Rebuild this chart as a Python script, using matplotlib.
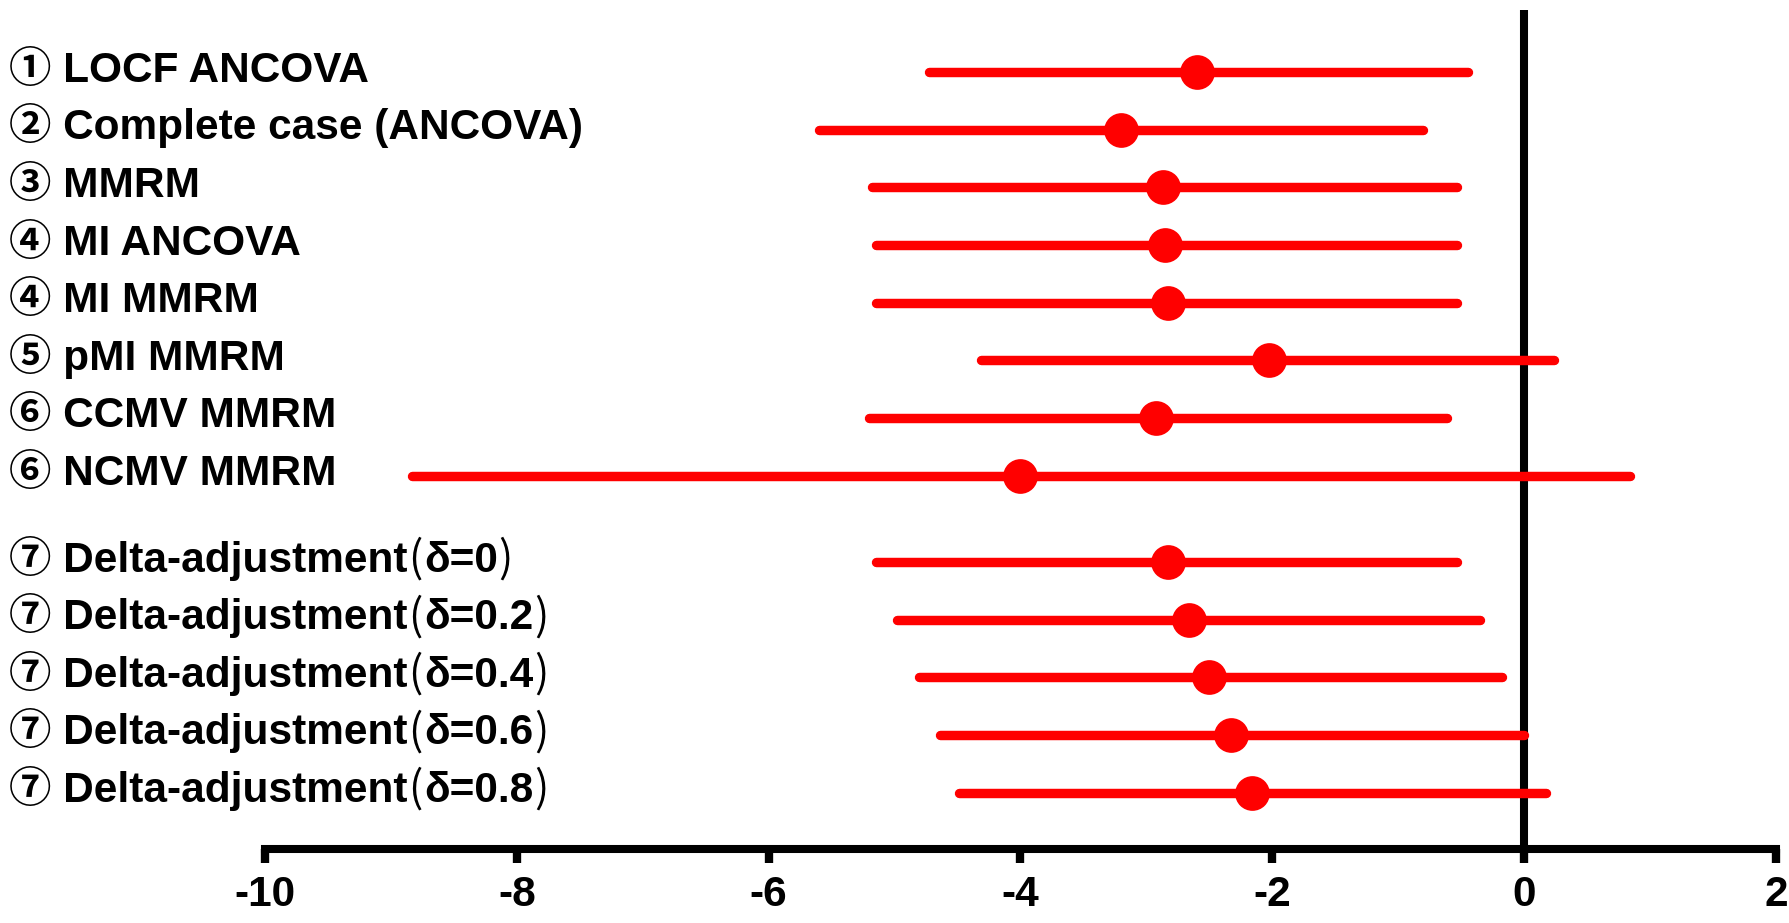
import numpy as np
import matplotlib
matplotlib.use('Agg')
import matplotlib.pyplot as plt
from matplotlib.transforms import offset_copy

plt.rcParams['font.family'] = ['Liberation Sans', 'Noto Sans CJK JP', 'DejaVu Sans']

# analyses, top to bottom
labels = [
    "① LOCF ANCOVA",
    "② Complete case (ANCOVA)",
    "③ MMRM",
    "④ MI ANCOVA",
    "④ MI MMRM",
    "⑤ pMI MMRM",
    "⑥ CCMV MMRM",
    "⑥ NCMV MMRM",
    "⑦ Delta-adjustment（δ=0）",
    "⑦ Delta-adjustment（δ=0.2）",
    "⑦ Delta-adjustment（δ=0.4）",
    "⑦ Delta-adjustment（δ=0.6）",
    "⑦ Delta-adjustment（δ=0.8）",
]
estimate = [-2.60, -3.20, -2.87, -2.85, -2.83, -2.03, -2.92, -4.00,
            -2.83, -2.66, -2.50, -2.33, -2.16]
ci_low = [-4.73, -5.60, -5.18, -5.15, -5.15, -4.31, -5.20, -8.83,
          -5.15, -4.98, -4.81, -4.64, -4.49]
ci_high = [-0.45, -0.80, -0.53, -0.53, -0.53, 0.24, -0.61, 0.84,
           -0.53, -0.35, -0.18, 0.00, 0.17]

xticks = [-10, -8, -6, -4, -2, 0, 2]
xticklabels = ["-10", "-8", "-6", "-4", "-2", "0", "2"]

# delta-adjustment block sits a half row lower
n = len(labels)
ypos = np.arange(n) + np.where(np.arange(n) >= 8, 0.5, 0.0)

fig = plt.figure(figsize=(17.9, 9.23), dpi=100)
ax = fig.add_axes([265 / 1790, 74 / 923, (1776 - 265) / 1790, (913 - 74) / 923])

red = '#ff0000'
ax.hlines(ypos, ci_low, ci_high, color=red, lw=6.8, capstyle='round', zorder=3)
ax.plot(estimate, ypos, 'o', color=red, ms=25, mec='none', zorder=4)

ax.axvline(0, color='black', lw=5.8, solid_capstyle='round', zorder=2)

ax.set_xlim(-10, 2)
ax.set_ylim(13.48, -1.08)
ax.set_yticks([])
for s in ['left', 'right', 'top']:
    ax.spines[s].set_visible(False)
ax.spines['bottom'].set_linewidth(5.8)
ax.set_xticks(xticks)
ax.set_xticklabels(xticklabels, fontsize=30.5, fontweight='bold')
ax.tick_params(axis='x', length=10, width=6, pad=8.5)

# row labels; the bracketed delta part uses thin proportional brackets
renderer = fig.canvas.get_renderer()
ytrans = ax.get_yaxis_transform()
bold = dict(fontsize=30.5, fontweight='bold')
bracket = dict(fontsize=30.5, fontweight='normal', family=['Noto Sans CJK JP'])
x0 = -0.1695
for y, lab in zip(ypos, labels):
    head, sep, tail = lab.partition('（')
    pieces = [(head, bold)]
    if sep:
        inner = tail.rstrip('）')
        pieces += [('(', bracket), (inner, bold), (')', bracket)]
    dx = 0.0
    for txt, kw in pieces:
        t = ax.text(x0, y + 0.165, txt, ha='left', va='baseline',
                    transform=offset_copy(ytrans, fig, x=dx, units='dots'), **kw)
        dx += t.get_window_extent(renderer).width + 1

fig.savefig('out.png', dpi=100)
